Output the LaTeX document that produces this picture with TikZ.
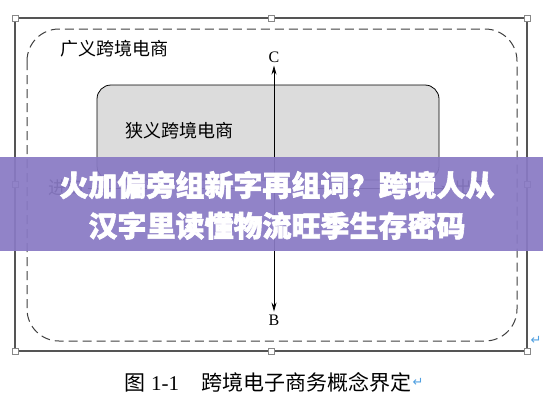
\documentclass[tikz,border=0pt]{standalone}
\usepackage{fontspec}
\setmainfont{Liberation Serif}
\newfontfamily\cjk{Noto Sans CJK SC}[BoldFeatures={FakeBold=2}]
\newfontfamily\symfont{DejaVu Sans}
\usepackage{tikz}
\usetikzlibrary{positioning,arrows.meta}
\definecolor{framegray}{RGB}{85,85,85}
\definecolor{boxgray}{RGB}{220,220,220}
\definecolor{banner}{RGB}{137,122,196}
\definecolor{retblue}{RGB}{80,160,225}

\begin{document}
\begin{tikzpicture}[x=1pt, y=-1pt, font=\cjk, inner sep=0pt]
  \tikzstyle{handle}=[rectangle,draw=framegray!70,fill=white,line width=0.6pt,
                      minimum size=6pt]
  \tikzstyle{label}=[font=\cjk\fontsize{18}{18}\selectfont]
  \tikzstyle{letter}=[font=\fontsize{16}{16}\selectfont]
  \tikzstyle{arr}=[{Stealth[length=9pt,width=5pt]}-{Stealth[length=9pt,width=5pt]},
                   line width=0.8pt]
  \tikzstyle{ret}=[font=\symfont\fontsize{13}{13}\selectfont,text=retblue]
  \useasboundingbox (0,0) rectangle (543,408);
  \fill[white] (0,0) rectangle (543,408);
  % frame of the figure
  \draw[framegray,line width=1.3pt] (15,18) rectangle (527,351);
  % broad and narrow scope
  \draw[black!75,line width=1pt,dash pattern=on 9pt off 5pt,rounded corners=32pt]
    (27,29) rectangle (517,341);
  \draw[black,line width=0.8pt,fill=boxgray,rounded corners=14pt]
    (97,85) rectangle (439,180);
  \node[label,anchor=west](broad) at (60,49){广义跨境电商};
  \node[label,anchor=west](narrow) at (125,131){狭义跨境电商};
  % axes
  \node[letter](C) at (274,57){C};
  \node[letter](B) at (274,320){B};
  \draw[arr]([yshift=-3pt]C.south) -- ([yshift=3pt]B.north);
  \node[label](imp) at (66,188){进口};
  \node[label](exp) at (472,188){出口};
  \draw[->,line width=0.8pt,>={Stealth[length=9pt,width=5pt]}]([xshift=4pt]imp.east) -- ([xshift=-4pt]exp.west);
  % handles
  \foreach \hx/\hy in {15/18,271/18,527/18,15/184,527/184,15/351,271/351,527/351}
    \node[handle] at (\hx,\hy){};
  \node[ret](ret1) at (536,340){↵};
  % caption
  \node[font=\cjk\fontsize{21}{21}\selectfont,anchor=west](cap) at (124,382)
    {图\hspace{6pt}{\rmfamily 1-1}\hspace{22pt}跨境电子商务概念界定};
  \node[ret,right=1pt of cap](ret2){↵};
  % banner
  \fill[banner,opacity=0.93] (0,157) rectangle (543,251);
  \node[font=\cjk\bfseries\fontsize{29}{29}\selectfont,text=white](title1) at (277,185)
    {火加偏旁组新字再组词？跨境人从};
  \node[font=\cjk\bfseries\fontsize{29}{29}\selectfont,text=white,below=12pt of title1](title2)
    {汉字里读懂物流旺季生存密码};
\end{tikzpicture}
\end{document}
